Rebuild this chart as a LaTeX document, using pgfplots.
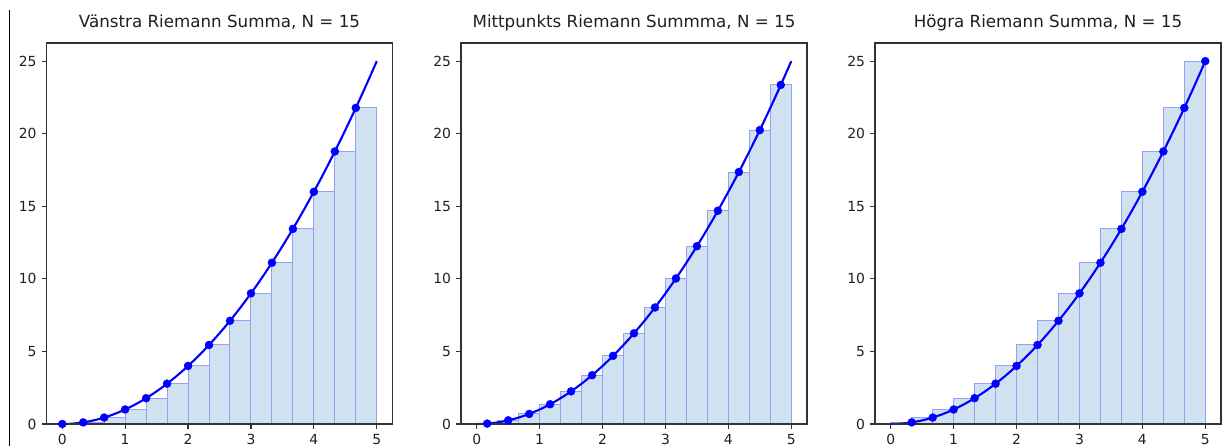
\documentclass[border=0pt]{standalone}
\usepackage{fontspec}
\setmainfont{DejaVu Sans}
\usepackage{pgfplots}
\usepackage{pgfplotstable}
\pgfplotsset{compat=1.18}
\definecolor{barfill}{RGB}{208,225,239}
\definecolor{baredge}{RGB}{150,160,250}

% grid points x_i = i/3 and f(x_i) = x_i^2
\pgfplotstableread{
x y
0 0
0.33333 0.11111
0.66667 0.44444
1 1
1.33333 1.77778
1.66667 2.77778
2 4
2.33333 5.44444
2.66667 7.11111
3 9
3.33333 11.11111
3.66667 13.44444
4 16
4.33333 18.77778
4.66667 21.77778
5 25
}\gridpts

% right-sum bars: interval [x_i, x_{i+1}] with height f(x_{i+1})
\pgfplotstableread{
x y
0 0.11111
0.33333 0.44444
0.66667 1
1 1.77778
1.33333 2.77778
1.66667 4
2 5.44444
2.33333 7.11111
2.66667 9
3 11.11111
3.33333 13.44444
3.66667 16
4 18.77778
4.33333 21.77778
4.66667 25
5 25
}\rightbars

% midpoint bars: interval [x_i, x_{i+1}] with height f(midpoint)
\pgfplotstableread{
x y
0 0.02778
0.33333 0.25
0.66667 0.69444
1 1.36111
1.33333 2.25
1.66667 3.36111
2 4.69444
2.33333 6.25
2.66667 8.02778
3 10.02778
3.33333 12.25
3.66667 14.69444
4 17.36111
4.33333 20.25
4.66667 23.36111
5 23.36111
}\midbars

% midpoints
\pgfplotstableread{
x y
0.16667 0.02778
0.5 0.25
0.83333 0.69444
1.16667 1.36111
1.5 2.25
1.83333 3.36111
2.16667 4.69444
2.5 6.25
2.83333 8.02778
3.16667 10.02778
3.5 12.25
3.83333 14.69444
4.16667 17.36111
4.5 20.25
4.83333 23.36111
}\midpts

% the curve f(x) = x^2, sampled
\pgfplotstableread{
x y
0 0
0.1 0.01
0.2 0.04
0.3 0.09
0.4 0.16
0.5 0.25
0.6 0.36
0.7 0.49
0.8 0.64
0.9 0.81
1 1
1.1 1.21
1.2 1.44
1.3 1.69
1.4 1.96
1.5 2.25
1.6 2.56
1.7 2.89
1.8 3.24
1.9 3.61
2 4
2.1 4.41
2.2 4.84
2.3 5.29
2.4 5.76
2.5 6.25
2.6 6.76
2.7 7.29
2.8 7.84
2.9 8.41
3 9
3.1 9.61
3.2 10.24
3.3 10.89
3.4 11.56
3.5 12.25
3.6 12.96
3.7 13.69
3.8 14.44
3.9 15.21
4 16
4.1 16.81
4.2 17.64
4.3 18.49
4.4 19.36
4.5 20.25
4.6 21.16
4.7 22.09
4.8 23.04
4.9 24.01
5 25
}\curve

\pgfplotsset{
  rsum/.style={
    scale only axis,
    width=346pt, height=381pt,
    anchor=south west,
    xmin=-0.25, xmax=5.25, ymin=0, ymax=26.25,
    xtick={0,1,2,3,4,5},
    ytick={0,5,10,15,20,25},
    tick align=outside,
    major tick length=4.9pt,
    xtick pos=left, ytick pos=left,
    axis line style={black!80, line width=1.1pt},
    every tick/.style={black!80, line width=1.1pt},
    /pgf/number format/assume math mode=true,
    tick label style={font=\fontsize{13.9}{16}\selectfont, text=black!88},
    xticklabel style={inner sep=0pt, yshift=-4.9pt},
    yticklabel style={inner sep=0pt, xshift=-4.9pt},
    title style={font=\fontsize{16.7}{19}\selectfont, text=black!88, anchor=base, inner sep=0pt, yshift=9.5pt},
    axis on top,
    clip=false,
  },
  bars/.style={ybar interval, fill=barfill, draw=baredge, line width=1pt},
  curvestyle/.style={blue, line width=2.1pt, no markers, smooth},
  dots/.style={only marks, mark=*, mark size=4pt, mark options={fill=blue, draw=blue}},
}

\begin{document}
\begin{tikzpicture}
\path[use as bounding box] (0,0) rectangle (1222pt,446pt);
\clip (0,0) rectangle (1222pt,446pt);
\draw[black, line width=1.2pt] (9.5pt,0) -- (9.5pt,436pt);

\begin{axis}[rsum, at={(46.5pt,22pt)}, title={Vänstra Riemann Summa, N = 15}]
  \addplot[bars] table[x=x, y=y] {\gridpts};
  \addplot[curvestyle] table[x=x, y=y] {\curve};
  \addplot[dots, skip coords between index={15}{16}] table[x=x, y=y] {\gridpts};
\end{axis}

\begin{axis}[rsum, at={(461pt,22pt)}, title={Mittpunkts Riemann Summma, N = 15}]
  \addplot[bars] table[x=x, y=y] {\midbars};
  \addplot[curvestyle] table[x=x, y=y] {\curve};
  \addplot[dots] table[x=x, y=y] {\midpts};
\end{axis}

\begin{axis}[rsum, at={(875pt,22pt)}, title={Högra Riemann Summa, N = 15}]
  \addplot[bars] table[x=x, y=y] {\rightbars};
  \addplot[curvestyle] table[x=x, y=y] {\curve};
  \addplot[dots, skip coords between index={0}{1}] table[x=x, y=y] {\gridpts};
\end{axis}
\end{tikzpicture}
\end{document}
